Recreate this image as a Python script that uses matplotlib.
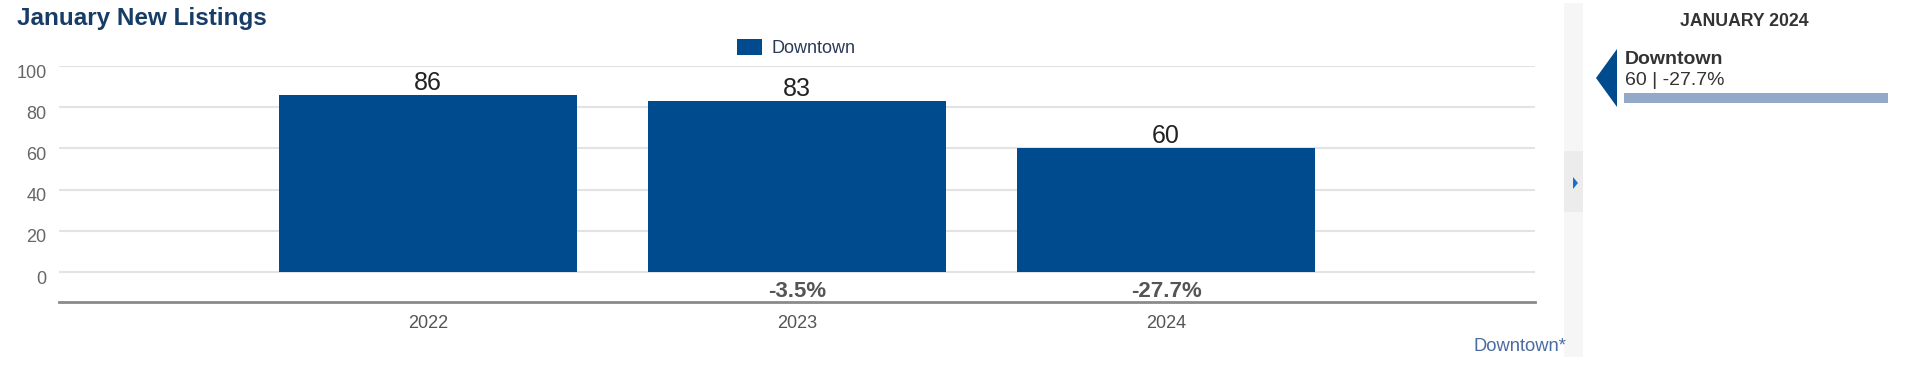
import matplotlib
matplotlib.use("Agg")
import matplotlib.pyplot as plt
import matplotlib.transforms as mtransforms
from matplotlib.patches import Rectangle, Polygon

plt.rcParams['font.family'] = ['Liberation Sans', 'DejaVu Sans']

# data
years = ["2022", "2023", "2024"]
listings = [86, 83, 60]
pct_change = ["", "-3.5%", "-27.7%"]
series_name = "Downtown"
panel_title = "JANUARY 2024"
panel_value = 60
panel_label = "60 | -27.7%"

W, H = 1920, 366
BLUE = "#004b8d"

fig = plt.figure(figsize=(W / 100, H / 100), dpi=100)


def fx(px):
    return px / W


def fy(py):
    return 1 - py / H


# main plot area (pixel box 59..1535 x 66..302)
ax = fig.add_axes([fx(59), fy(302), fx(1535) - fx(59), fy(66) - fy(302)])
xpos = list(range(len(years)))
bars = ax.bar(xpos, listings, width=0.81, color=BLUE, zorder=3, label=series_name)
ax.set_xlim(-1.0, 3.0)
ax.set_ylim(-14.5, 100)

ax.set_yticks([0, 20, 40, 60, 80, 100])
ax.yaxis.grid(True, color="#e3e3e3", linewidth=1.5, zorder=0)
ax.set_axisbelow(True)
ax.tick_params(axis="y", length=0, pad=9, labelsize=13, labelcolor="#666666")
offset = mtransforms.ScaledTranslation(0, -5 / 100, fig.dpi_scale_trans)
for lbl in ax.get_yticklabels():
    lbl.set_transform(lbl.get_transform() + offset)

ax.set_xticks(xpos)
ax.set_xticklabels(years)
ax.tick_params(axis="x", length=0, pad=9, labelsize=13, labelcolor="#555555")

for side in ["left", "right", "top"]:
    ax.spines[side].set_visible(False)
ax.spines["bottom"].set_color("#8a8a8a")
ax.spines["bottom"].set_linewidth(2)

for x, v, p in zip(xpos, listings, pct_change):
    ax.annotate(str(v), (x, v), xytext=(0, 0), textcoords="offset pixels",
                ha="center", va="bottom", fontsize=18, color="#222222")
    if p:
        ax.text(x, -9.3, p, ha="center", va="center", fontsize=16,
                fontweight="bold", color="#555555")

# legend
fig.legend(handles=[bars], labels=[series_name], loc="center left",
           bbox_to_anchor=(fx(737), fy(48)), frameon=False, fontsize=13,
           handlelength=1.4, handleheight=1.05, handletextpad=0.5,
           borderpad=0, borderaxespad=0, labelcolor="#2b3a58")

# title
fig.text(fx(17), fy(25), "January New Listings", fontsize=17.5, fontweight="bold",
         color="#173c66", ha="left", va="baseline")

# footnote
fig.text(fx(1566), fy(351), "Downtown*", fontsize=13.2, color="#4a6c9f",
         ha="right", va="baseline")

# separator strip
fig.patches.append(Rectangle((fx(1564), fy(357)), fx(19), 354 / H,
                             transform=fig.transFigure, facecolor="#f6f6f6",
                             edgecolor="none"))
fig.patches.append(Rectangle((fx(1564), fy(212)), fx(19), 61 / H,
                             transform=fig.transFigure, facecolor="#ececec",
                             edgecolor="none"))
fig.patches.append(Polygon([(fx(1573), fy(177)), (fx(1573), fy(189)), (fx(1578), fy(183))],
                           closed=True, transform=fig.transFigure,
                           facecolor="#1a72c8", edgecolor="none"))

# right panel
fig.text(fx(1744), fy(21), panel_title, fontsize=12.7, fontweight="bold",
         color="#333333", ha="center", va="center")
fig.patches.append(Polygon([(fx(1596), fy(78)), (fx(1617), fy(49)), (fx(1617), fy(107))],
                           closed=True, transform=fig.transFigure,
                           facecolor=BLUE, edgecolor="none"))
fig.text(fx(1625), fy(64), series_name, fontsize=14, fontweight="bold",
         color="#333333", ha="left", va="baseline")
fig.text(fx(1625), fy(85), panel_label, fontsize=14, color="#333333",
         ha="left", va="baseline")

bax = fig.add_axes([fx(1624), fy(103), fx(1888) - fx(1624), fy(93) - fy(103)])
bax.barh([0], [panel_value], height=1.0, color="#93a9c8")
bax.set_xlim(0, panel_value)
bax.set_ylim(-0.5, 0.5)
bax.axis("off")

fig.savefig("out.png", dpi=100)
